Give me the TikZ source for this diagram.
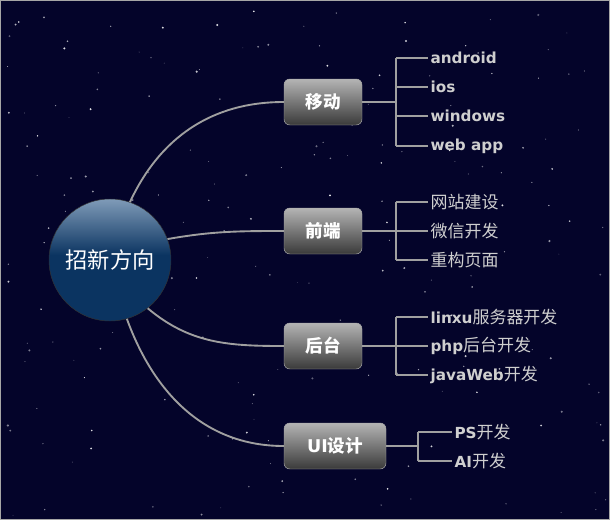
\documentclass[tikz,border=0pt]{standalone}
\usepackage{fontspec}
\setmainfont{DejaVu Sans}
\newfontfamily\cjk{Noto Sans CJK SC}
\newcommand\zhtext[1]{{\cjk\mdseries\fontsize{14.5}{15}\selectfont #1}}
\definecolor{sky}{HTML}{04042A}
\definecolor{hubtop}{HTML}{7F9BB8}
\definecolor{hubbot}{HTML}{0B3461}
\definecolor{boxtop}{HTML}{B4B4B4}
\definecolor{boxmid}{HTML}{444444}
\definecolor{boxbot}{HTML}{3A3A3A}
\definecolor{boxline}{HTML}{A8A8A8}
\definecolor{linkgray}{HTML}{A0A0A0}
\definecolor{leafgray}{HTML}{CFCFCF}
\pgfdeclareverticalshading{hubshade}{100bp}{color(0bp)=(hubbot); color(52bp)=(hubbot);
    color(75bp)=(hubtop); color(100bp)=(hubtop)}

\begin{document}
\begin{tikzpicture}[x=0.03cm, y=-0.03cm,
        hub/.style={circle, minimum size=3.66cm, draw=black!80, shading=hubshade,
            text=white, font=\cjk\fontsize{19}{19}\selectfont},
        topic/.style={rectangle, rounded corners=5pt, minimum width=2.34cm,
            minimum height=1.38cm, draw=boxline, top color=boxtop,
            middle color=boxmid, bottom color=boxbot, text=white,
            font=\cjk\bfseries\fontsize{15}{15}\selectfont},
        leaf/.style={anchor=west, inner sep=2pt, text=leafgray,
            font=\bfseries\fontsize{13}{14}\selectfont},
        link/.style={draw=linkgray, line width=1.6pt},
        twig/.style={draw=linkgray, line width=1.1pt}]
    \fill[sky] (0,0) rectangle (610,520);
    \useasboundingbox (0,0) rectangle (610,520);
    % stars
    \pgfmathsetseed{42}
    \foreach \i in {1,...,220}{
        \pgfmathsetmacro\sx{4+602*rnd}
        \pgfmathsetmacro\sy{4+512*rnd}
        \pgfmathsetmacro\sr{0.3+0.7*rnd}
        \pgfmathsetmacro\so{0.3+0.7*rnd}
        \fill[white, opacity=\so] (\sx,\sy) circle (\sr pt);
    }
    \draw[gray!70, line width=1pt] (0.5,0.5) rectangle (609.5,519.5);

    \node[hub] (c) at (110,260) {招新方向};

    \node[topic] (m) at (323,102) {移动};
    \node[topic] (f) at (323,231) {前端};
    \node[topic] (b) at (323,346) {后台};
    \node[topic, minimum width=3.06cm] (u) at (335,446) {{\rmfamily UI}设计};

    \node[leaf] (m1) at (428,58)  {android};
    \node[leaf] (m2) at (428,87)  {ios};
    \node[leaf] (m3) at (428,116) {windows};
    \node[leaf] (m4) at (428,146) {web app};
    \node[leaf] (f1) at (428,202) {\zhtext{网站建设}};
    \node[leaf] (f2) at (428,231) {\zhtext{微信开发}};
    \node[leaf] (f3) at (428,260) {\zhtext{重构页面}};
    \node[leaf] (b1) at (428,317) {linxu\zhtext{服务器开发}};
    \node[leaf] (b2) at (428,346) {php\zhtext{后台开发}};
    \node[leaf] (b3) at (428,375) {javaWeb\zhtext{开发}};
    \node[leaf] (u1) at (452,432) {PS\zhtext{开发}};
    \node[leaf] (u2) at (452,461) {AI\zhtext{开发}};

    \coordinate (mj) at (396,102);
    \coordinate (fj) at (396,231);
    \coordinate (bj) at (396,346);
    \coordinate (uj) at (418,446);

    \draw[link] (c.71) to[out=65,in=180] (m.west);
    \draw[link] (c.20) to[out=10,in=180] (f.west);
    \draw[link] (c.-52) to[out=-40,in=180] (b.west);
    \draw[link] (c.-74) to[out=-70,in=180] (u.west);

    \draw[twig] (m.east) -- (mj) (mj |- m1.west) -- (mj |- m4.west);
    \draw[twig] (f.east) -- (fj) (fj |- f1.west) -- (fj |- f3.west);
    \draw[twig] (b.east) -- (bj) (bj |- b1.west) -- (bj |- b3.west);
    \draw[twig] (u.east) -- (uj) (uj |- u1.west) -- (uj |- u2.west);
    \foreach \l/\j in {m1/mj,m2/mj,m3/mj,m4/mj,f1/fj,f2/fj,f3/fj,
                      b1/bj,b2/bj,b3/bj,u1/uj,u2/uj}
        \draw[twig] (\j |- \l.west) -- (\l.west);

\end{tikzpicture}
\end{document}
